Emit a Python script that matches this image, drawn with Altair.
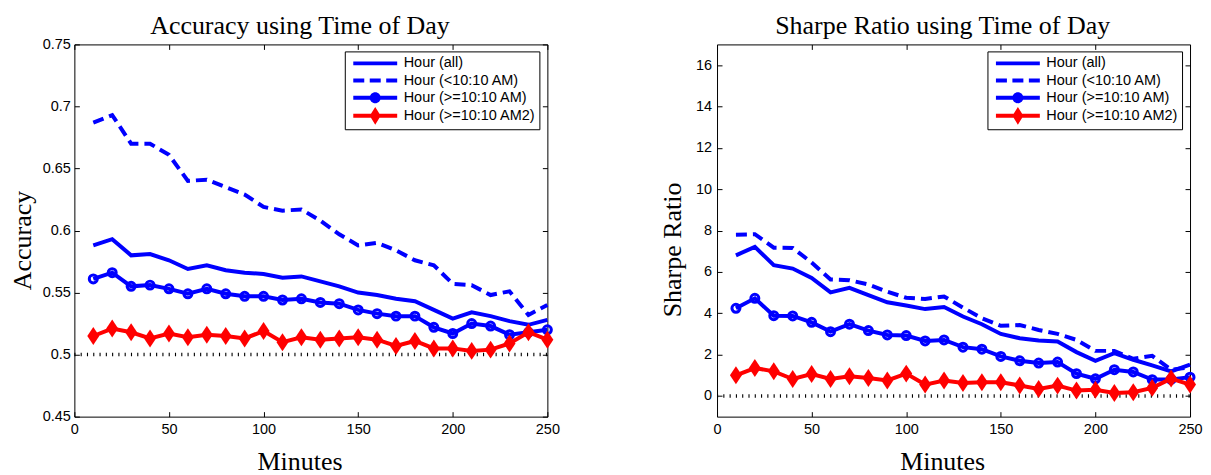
import altair as alt
import pandas as pd

# ---------------- data ----------------
minutes = [10, 20, 30, 40, 50, 60, 70, 80, 90, 100, 110, 120, 130,
           140, 150, 160, 170, 180, 190, 200, 210, 220, 230, 240, 250]

series_names = ["Hour (all)", "Hour (<10:10 AM)", "Hour (>=10:10 AM)", "Hour (>=10:10 AM2)"]
series_colors = ["#0000ff", "#0000ff", "#0000ff", "#ff0000"]

acc_all = [0.588, 0.593, 0.580, 0.581, 0.576, 0.569, 0.572, 0.568, 0.566, 0.565, 0.562, 0.563, 0.559,
           0.555, 0.550, 0.548, 0.545, 0.543, 0.536, 0.529, 0.534, 0.531, 0.527, 0.524, 0.528]
acc_early = [0.687, 0.693, 0.670, 0.670, 0.661, 0.640, 0.641, 0.635, 0.629, 0.619, 0.616, 0.617, 0.608,
             0.597, 0.588, 0.590, 0.584, 0.576, 0.572, 0.557, 0.556, 0.548, 0.551, 0.532, 0.540]
acc_late = [0.561, 0.566, 0.555, 0.556, 0.553, 0.549, 0.553, 0.549, 0.547, 0.547, 0.544, 0.545, 0.542,
            0.541, 0.536, 0.533, 0.531, 0.531, 0.522, 0.517, 0.525, 0.523, 0.516, 0.518, 0.520]
acc_late2 = [0.515, 0.521, 0.518, 0.513, 0.517, 0.514, 0.516, 0.515, 0.513, 0.519, 0.510, 0.514, 0.512,
             0.513, 0.514, 0.512, 0.507, 0.511, 0.505, 0.505, 0.503, 0.504, 0.509, 0.518, 0.512]

sr_all = [6.80, 7.21, 6.32, 6.16, 5.71, 5.01, 5.23, 4.88, 4.53, 4.37, 4.20, 4.30, 3.84,
          3.47, 3.00, 2.79, 2.68, 2.63, 2.12, 1.70, 2.07, 1.75, 1.48, 1.19, 1.51]
sr_early = [7.80, 7.82, 7.17, 7.16, 6.45, 5.63, 5.60, 5.39, 5.04, 4.75, 4.69, 4.81, 4.27,
            3.76, 3.39, 3.43, 3.19, 3.00, 2.71, 2.18, 2.18, 1.80, 1.94, 1.27, 1.38]
sr_late = [4.24, 4.72, 3.88, 3.87, 3.56, 3.11, 3.47, 3.16, 2.95, 2.92, 2.66, 2.71, 2.36,
           2.26, 1.91, 1.70, 1.59, 1.64, 1.08, 0.83, 1.27, 1.16, 0.79, 0.80, 0.91]
sr_late2 = [1.00, 1.35, 1.19, 0.82, 1.06, 0.82, 0.95, 0.87, 0.75, 1.08, 0.55, 0.75, 0.63,
            0.66, 0.66, 0.51, 0.34, 0.50, 0.26, 0.30, 0.14, 0.18, 0.39, 0.84, 0.55]

x_domain = [0, 250]
x_ticks = [0, 50, 100, 150, 200, 250]
acc_domain = [0.45, 0.75]
acc_ticks = [0.45, 0.5, 0.55, 0.6, 0.65, 0.7, 0.75]
sr_domain = [-1, 17]
sr_ticks = [0, 2, 4, 6, 8, 10, 12, 14, 16]
ref_x = [0, 250]

# ---------------- style ----------------
BLUE = "#0000ff"
RED = "#ff0000"
W, H = 474, 373
TICK = 5


def f(v):
    return f"{v:.3f}"


# legend symbol paths (unit = sqrt(symbolSize)/2 = 8.5 px)
U = 8.5
hw = 22 / U      # half symbol width
ht = 2 / U       # half line thickness


def rect(x0, x1):
    return f"M{f(x0)},{f(-ht)}H{f(x1)}V{f(ht)}H{f(x0)}Z"


cr = 5.5 / U
circle_path = (f"M{f(cr)},0A{f(cr)},{f(cr)} 0 1,1 {f(-cr)},0"
               f"A{f(cr)},{f(cr)} 0 1,1 {f(cr)},0Z")
dw, dh = 5.5 / U, 9 / U
diamond_legend = f"M0,{f(-dh)}L{f(dw)},0L0,{f(dh)}L{f(-dw)},0Z"
legend_paths = [
    rect(-hw, hw),
    rect(-hw, -hw / 2) + rect(-hw / 4, hw / 4) + rect(hw / 2, hw),
    rect(-hw, hw) + circle_path,
    rect(-hw, hw) + diamond_legend,
]
diamond_mark = "M0,-1.5L1,0L0,1.5L-1,0Z"


def panel(values, ydomain, yticks, yfmt, title, ytitle, ytitle_x, ytitle_y, ylabpad, ref_y):
    rows = []
    for name, vals in zip(series_names, values):
        for m, v in zip(minutes, vals):
            rows.append({"series": name, "minutes": m, "value": v})
    df = pd.DataFrame(rows)
    ref_df = pd.DataFrame({"minutes": ref_x, "value": [ref_y] * len(ref_x)})

    xs = alt.Scale(domain=x_domain, nice=False, zero=False)
    ys = alt.Scale(domain=ydomain, nice=False, zero=False)

    def sel(name):
        return alt.FieldEqualPredicate(field="series", equal=name)

    ax_bottom = alt.Axis(orient="bottom", values=x_ticks, offset=-TICK, tickSize=TICK,
                         labelPadding=6, labelFlush=False, title="Minutes",
                         titleX=W / 2 - 11.4, titleY=58, titleBaseline="alphabetic",
                         titleAlign="center")
    ax_left = alt.Axis(orient="left", values=yticks, format=yfmt, offset=-TICK, tickSize=TICK,
                       labelPadding=ylabpad, title=ytitle, titleX=ytitle_x, titleY=ytitle_y,
                       titleBaseline="alphabetic", titleAlign="center", titleAngle=270)
    ax_top = alt.Axis(orient="top", values=x_ticks, offset=-TICK, tickSize=TICK,
                      labels=False, title=title, titleX=W / 2 - 11.4, titleY=-16,
                      titleBaseline="alphabetic", titleAlign="center", titleAngle=0)
    ax_right = alt.Axis(orient="right", values=yticks, offset=-TICK, tickSize=TICK,
                        labels=False, title=None)

    ref_line = alt.Chart(ref_df).mark_line(color="#000000", strokeWidth=3.5,
                                           strokeDash=[1.1, 5.2]).encode(
        x=alt.X("minutes:Q", scale=xs, axis=ax_bottom),
        y=alt.Y("value:Q", scale=ys, axis=ax_left),
    )

    leg = alt.Legend(orient="none", legendX=271, legendY=7, direction="vertical",
                     symbolSize=289, symbolStrokeWidth=0, symbolOpacity=1,
                     symbolOffset=18.5, labelOffset=20, labelFont="Liberation Sans",
                     labelFontSize=14.5, labelColor="#000000", rowPadding=2.2, padding=3.5,
                     strokeColor="#000000", fillColor="#ffffff", cornerRadius=0)
    legend_layer = alt.Chart(df).mark_point(filled=True, opacity=0).encode(
        x=alt.X("minutes:Q", scale=xs, axis=None),
        y=alt.Y("value:Q", scale=ys, axis=None),
        color=alt.Color("series:N", scale=alt.Scale(domain=series_names, range=series_colors),
                        legend=leg, title=None),
        shape=alt.Shape("series:N", scale=alt.Scale(domain=series_names, range=legend_paths),
                        legend=leg, title=None),
    )

    enc_none = dict(
        x=alt.X("minutes:Q", scale=xs, axis=None),
        y=alt.Y("value:Q", scale=ys, axis=None),
    )

    line_all = alt.Chart(df).transform_filter(sel(series_names[0])).mark_line(
        color=BLUE, strokeWidth=4).encode(
        x=alt.X("minutes:Q", scale=xs, axis=ax_top),
        y=alt.Y("value:Q", scale=ys, axis=ax_right),
    )
    line_early = alt.Chart(df).transform_filter(sel(series_names[1])).mark_line(
        color=BLUE, strokeWidth=4, strokeDash=[11, 6]).encode(**enc_none)
    line_late = alt.Chart(df).transform_filter(sel(series_names[2])).mark_line(
        color=BLUE, strokeWidth=4).encode(**enc_none)
    pts_late = alt.Chart(df).transform_filter(sel(series_names[2])).mark_point(
        shape="circle", filled=False, size=64, strokeWidth=3, color=BLUE, opacity=1).encode(**enc_none)
    line_late2 = alt.Chart(df).transform_filter(sel(series_names[3])).mark_line(
        color=RED, strokeWidth=4).encode(**enc_none)
    pts_late2 = alt.Chart(df).transform_filter(sel(series_names[3])).mark_point(
        shape=diamond_mark, filled=True, size=144, color=RED, opacity=1, strokeWidth=0).encode(**enc_none)

    return alt.layer(
        ref_line, legend_layer, line_all, line_early, line_late, pts_late, line_late2, pts_late2
    ).resolve_axis(x="independent", y="independent").properties(width=W, height=H)


left = panel([acc_all, acc_early, acc_late, acc_late2], acc_domain, acc_ticks, "~g",
             "Accuracy using Time of Day", "Accuracy", -48.7, 196, 4, 0.5)
right = panel([sr_all, sr_early, sr_late, sr_late2], sr_domain, sr_ticks, "d",
              "Sharpe Ratio using Time of Day", "Sharpe Ratio", -42, 205.5, 5.5, 0)

chart = alt.hconcat(left, right, spacing=170, bounds="flush").resolve_scale(
    color="independent", shape="independent"
).resolve_legend(
    color="independent", shape="independent"
).configure_view(
    stroke="#000000", strokeWidth=1
).configure_axis(
    grid=False, domain=False, tickColor="#000000", tickWidth=1,
    labelColor="#000000", labelFont="Liberation Sans", labelFontSize=14.5,
    titleFont="Liberation Serif", titleFontSize=26, titleFontWeight="normal",
    titleColor="#000000",
).properties(
    padding={"left": 0.5, "top": 3, "right": 0, "bottom": 0}
)

chart.save("out.html", embed_options={"renderer": "svg", "actions": False})
